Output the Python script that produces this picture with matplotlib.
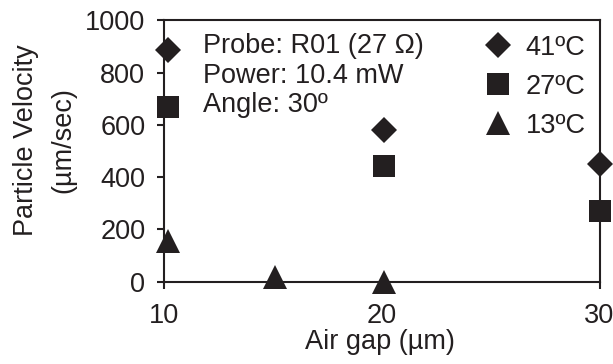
import matplotlib
matplotlib.use('Agg')
import matplotlib.pyplot as plt
from matplotlib.lines import Line2D

plt.rcParams['font.family'] = ['Liberation Sans', 'DejaVu Sans']

# values
gap_41 = [10.2, 20.1, 30.0]
vel_41 = [888, 582, 449]
gap_27 = [10.2, 20.1, 30.0]
vel_27 = [667, 444, 269]
gap_13 = [10.2, 15.1, 20.1]
vel_13 = [156, 18, 0]

series_labels = ['41\u00baC', '27\u00baC', '13\u00baC']
notes = ['Probe: R01 (27 \u03a9)', 'Power: 10.4 mW', 'Angle: 30\u00ba']
x_ticks = [10, 20, 30]
y_ticks = [0, 200, 400, 600, 800, 1000]

ink = '#231f20'
W, H = 613, 364
fig = plt.figure(figsize=(W / 100, H / 100), dpi=100)
ax = fig.add_axes([164 / W, 1 - 281.7 / H, (599.5 - 164) / W, (281.7 - 20.5) / H])

ax.plot(gap_41, vel_41, 'D', ms=13.2, color=ink, mew=0, clip_on=False, zorder=3)
ax.plot(gap_27, vel_27, 's', ms=15.2, color=ink, mew=0, clip_on=False, zorder=3)
ax.plot(gap_13, vel_13, '^', ms=17, color=ink, mew=0, clip_on=False, zorder=3)

ax.set_xlim(10, 30)
ax.set_ylim(0, 1000)
ax.set_xticks(x_ticks)
ax.set_yticks(y_ticks)
for s in ax.spines.values():
    s.set_linewidth(1.5)
    s.set_color(ink)
ax.tick_params(axis='both', direction='out', length=5, width=1.5, color=ink,
               labelsize=19.5, labelcolor=ink)
ax.tick_params(axis='y', pad=8.5)
ax.tick_params(axis='x', pad=10)

# legend in upper right
handles = [
    Line2D([], [], ls='none', marker='D', ms=13.2, color=ink, mew=0),
    Line2D([], [], ls='none', marker='s', ms=15.2, color=ink, mew=0),
    Line2D([], [], ls='none', marker='^', ms=17, color=ink, mew=0),
]
leg = ax.legend(handles, series_labels, loc='upper right', frameon=False,
                fontsize=19.5, labelspacing=0.48, handlelength=1.0,
                handletextpad=0.5, borderaxespad=0.12, borderpad=0.4)
for t in leg.get_texts():
    t.set_color(ink)

# probe notes
for txt, yb in zip(notes, [53.3, 83.3, 112.3]):
    fig.text(202.7 / W, 1 - yb / H, txt, fontsize=19.5, color=ink,
             ha='left', va='baseline')

# axis titles
fig.text(26 / W, 1 - 140 / H, 'Particle Velocity', rotation=90, fontsize=19.5,
         color=ink, ha='center', va='center')
fig.text(63 / W, 1 - 140 / H, '(\u00b5m/sec)', rotation=90, fontsize=19.5,
         color=ink, ha='center', va='center')
fig.text(380 / W, 1 - 342 / H, 'Air gap (\u00b5m)', fontsize=19.5, color=ink,
         ha='center', va='center')

fig.savefig('out.png', dpi=100)
